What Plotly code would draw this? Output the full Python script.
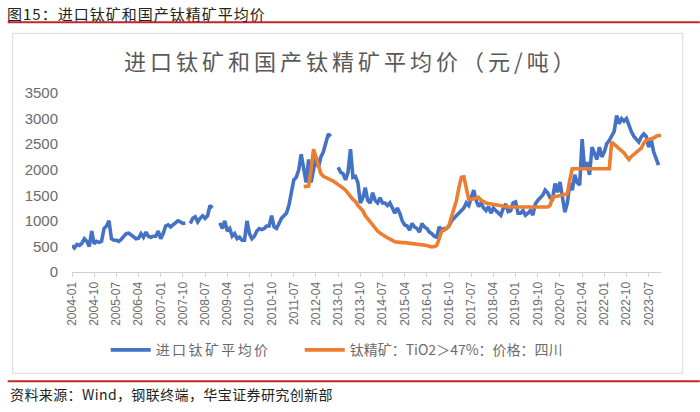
import pandas as pd
import plotly.graph_objects as go

# ---- data -------------------------------------------------------------
months = pd.period_range("2004-01", periods=240, freq="M").strftime("%Y-%m").tolist()

imported_avg = [
    # 2004
    520, 470, 540, 520, 560, 650, 600, 500, 800, 550, 600, 580,
    # 2005
    600, 850, 900, 1000, 650, 620, 620, 600, 640, 700, 750, 760,
    # 2006
    720, 680, 650, 660, 750, 680, 780, 700, 680, 700, 700, 800,
    # 2007
    650, 750, 900, 920, 880, 920, 950, 1000, 980, 950, 960, None,
    # 2008
    950, 1050, 1080, 980, 1050, 1100, 1050, 1100, 1300, 1250, None, None,
    # 2009
    960, 850, 1000, 800, 850, 700, 750, 650, 680, 620, 620, 1000,
    # 2010
    750, 650, 700, 800, 850, 830, 850, 900, 900, 1100, 880, 850,
    # 2011
    950, 1050, 1100, 1150, 1300, 1600, 1800, 1850, 2000, 2300, 2000, 1750,
    # 2012
    2200, 1750, 2000, 2250, 2050, 2250, 2350, 2500, 2700, 2650, None, None,
    # 2013
    2050, 1950, 1920, 1800, 1950, 2400, 1850, 1870, 1750, 1350, 1450, 1650,
    # 2014
    1400, 1350, 1550, 1400, 1350, 1450, 1350, 1350, 1300, 1350, 1250, 1150,
    # 2015
    1250, 1150, 1000, 920, 900, 820, 950, 880, 850, 780, 950, 880,
    # 2016
    850, 780, 750, 700, 680, 880, 820, 850, 850, 900, 1000, 1050,
    # 2017
    1080, 1150, 1200, 1250, 1350, 1300, 1450, 1600, 1400, 1280, 1350, 1250,
    # 2018
    1200, 1280, 1150, 1250, 1200, 1150, 1110, 1250, 1330, 1180, 1200, 1350,
    # 2019
    1370, 1150, 1150, 1200, 1110, 1150, 1200, 1110, 1330, 1400, 1450, 1500,
    # 2020
    1600, 1550, 1450, 1430, 1730, 1560, 1760, 1450, 1170, 1350, 1730, 1600,
    # 2021
    1900, 1750, 1700, 2600, 2000, 2150, 1900, 2440, 2300, 2200, 2440, 2250,
    # 2022
    2350, 2510, 2570, 2650, 2750, 3060, 2900, 3000, 2950, 3000, 2840, 2740,
    # 2023
    2650, 2600, 2540, 2640, 2700, 2650, 2440, 2600, 2350, 2220, 2090, None,
]

sichuan_conc = [None] * 94 + [
    # 2011-11..12
    1670, 1670,
    # 2012
    1680, 2000, 2400, 2250, 2050, 1920, 1870, 1840, 1830, 1800, 1780, 1750,
    # 2013
    1700, 1670, 1640, 1600, 1550, 1480, 1420, 1380, 1300, 1250, 1200, 1100,
    # 2014
    1050, 980, 920, 850, 800, 760, 720, 700, 670, 650, 620, 590,
    # 2015
    580, 580, 575, 575, 570, 570, 565, 560, 555, 550, 540, 530,
    # 2016
    520, 505, 490, 500, 520, 650, 800, 820, 850, 920, 1100, 1250,
    # 2017
    1400, 1650, 1850, 1860, 1600, 1420, 1420, 1430, 1440, 1460, 1400, 1370,
    # 2018
    1350, 1340, 1330, 1320, 1310, 1300, 1290, 1280, 1275, 1270, 1270, 1270,
    # 2019
    1270, 1270, 1270, 1270, 1270, 1270, 1270, 1270, 1270, 1270, 1270, 1270,
    # 2020
    1270, 1270, 1300, 1470, 1470, 1480, 1490, 1500, 1510, 1530, 1800, 2020,
    # 2021
    2020, 2020, 2020, 2020, 2020, 2020, 2020, 2020, 2020, 2020, 2020, 2020,
    # 2022
    2020, 2020, 2020, 2540, 2500, 2440, 2420, 2380, 2330, 2260, 2200, 2260,
    # 2023
    2300, 2340, 2380, 2420, 2520, 2580, 2590, 2600, 2620, 2650, 2670, 2670,
]

tick_labels = months[::9]
y_ticks = [0, 500, 1000, 1500, 2000, 2500, 3000, 3500]

series_names = ["进口钛矿平均价", "钛精矿：TiO2＞47%：价格：四川"]
series_colors = ["#4472C4", "#ED7D31"]

header_text = "图15：进口钛矿和国产钛精矿平均价"
chart_title = "进口钛矿和国产钛精矿平均价（元/吨）"
source_text = "资料来源：Wind，钢联终端，华宝证券研究创新部"

# ---- layout geometry (pixels) ------------------------------------------
W, H = 700, 412
PL, PR, PT, PB = 72.3, 661.2, 92.7, 271.7  # plot area


def px(xp):
    return (xp - PL) / (PR - PL)


def py(yp):
    return (PB - yp) / (PB - PT)


def spaced(text, sp):
    return f'<span style="letter-spacing:{sp}px">{text}</span>'


FONT = "Noto Sans CJK SC, Arial, sans-serif"
GREY = "#6B6B6B"

legend_ids = ["legend", "legend2"]
legend_x = [106, 300]
legend_spacing = [2.4, 0]

fig = go.Figure()
for name, vals, col, lid, sp in zip(series_names, [imported_avg, sichuan_conc],
                                    series_colors, legend_ids, legend_spacing):
    fig.add_trace(go.Scatter(
        x=months, y=vals, mode="lines", name=spaced(name, sp), legend=lid,
        line=dict(color=col, width=3.6), connectgaps=False,
        hoverinfo="skip",
    ))

legend_common = dict(
    orientation="h", xanchor="left", y=py(350), yanchor="middle",
    font=dict(size=14, color=GREY, family=FONT),
    bgcolor="rgba(0,0,0,0)", itemwidth=40,
)

fig.update_layout(
    width=W, height=H,
    margin=dict(l=PL, r=W - PR, t=PT, b=H - PB, pad=0),
    paper_bgcolor="white", plot_bgcolor="white",
    font=dict(family=FONT, color=GREY),
    showlegend=True,
    legend=dict(x=px(legend_x[0]), **legend_common),
    legend2=dict(x=px(legend_x[1]), **legend_common),
    xaxis=dict(
        type="category", categoryorder="array", categoryarray=months,
        range=[0, 239], tickmode="array", tickvals=tick_labels, ticktext=tick_labels,
        tickangle=-90, tickfont=dict(size=12, color=GREY, family="Arial"),
        showline=True, linecolor="#D0D0D0", linewidth=1,
        ticks="outside", ticklen=4, tickcolor="#D0D0D0",
        showgrid=False, zeroline=False, fixedrange=True,
    ),
    yaxis=dict(
        range=[0, 3500], tickvals=y_ticks, tickfont=dict(size=15, color=GREY, family="Arial"),
        showgrid=False, zeroline=False, showline=False, ticks="", ticklabelstandoff=13,
        fixedrange=True,
    ),
)

shapes = [
    # chart frame
    dict(type="rect", xref="paper", yref="paper", x0=px(13), x1=px(683), y0=py(373), y1=py(33),
         line=dict(color="#D9D9D9", width=1), fillcolor="rgba(0,0,0,0)", layer="below"),
    # red rules
    dict(type="line", xref="paper", yref="paper", x0=px(8), x1=px(700), y0=py(22), y1=py(22),
         line=dict(color="#C0272D", width=2)),
    dict(type="line", xref="paper", yref="paper", x0=px(8), x1=px(700), y0=py(381), y1=py(381),
         line=dict(color="#C0272D", width=2)),
]
fig.update_layout(shapes=shapes)

annotations = [
    dict(text=spaced(header_text, 1), x=px(5), y=py(13), xref="paper", yref="paper",
         xanchor="left", yanchor="middle", showarrow=False,
         font=dict(size=15, color="#222222", family=FONT)),
    dict(text=spaced(chart_title, 4), x=px(352), y=py(60), xref="paper", yref="paper",
         xanchor="center", yanchor="middle", showarrow=False,
         font=dict(size=22, color="#595959", family=FONT)),
    dict(text=spaced(source_text, 0.4), x=px(8), y=py(394), xref="paper", yref="paper",
         xanchor="left", yanchor="middle", showarrow=False,
         font=dict(size=14, color="#222222", family=FONT)),
]
fig.update_layout(annotations=annotations)

fig.write_html("out.html", config={"displayModeBar": False},
               post_script="document.body.style.margin='0';document.body.style.padding='0';")
